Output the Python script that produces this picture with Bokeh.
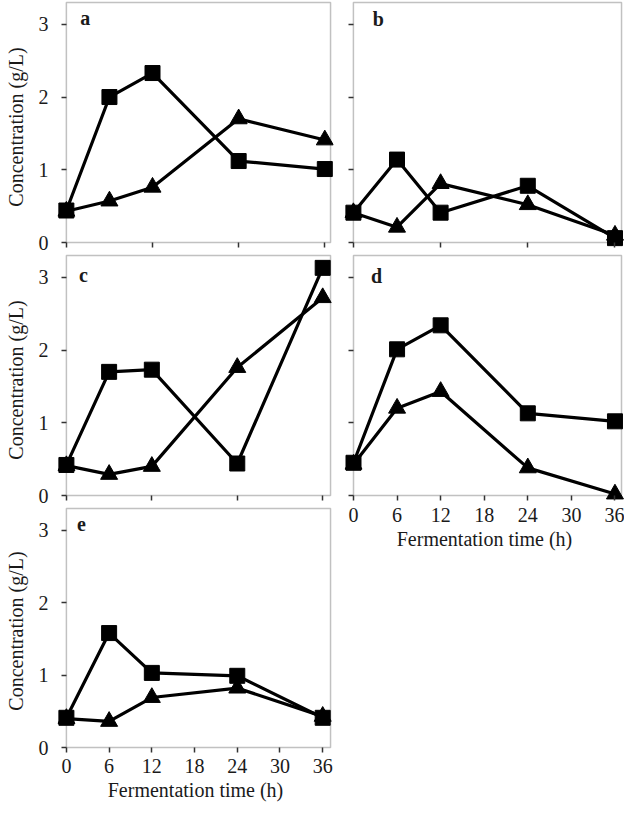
from bokeh.plotting import figure
from bokeh.models import LinearAxis, FixedTicker, Range1d, BoxAnnotation, Label
from bokeh.layouts import row, column
from bokeh.embed import file_html
from bokeh.resources import INLINE

# ---------------- data ----------------
time_h = [0, 6, 12, 24, 36]

a_square = [0.44, 2.00, 2.33, 1.12, 1.01]
a_triangle = [0.43, 0.57, 0.76, 1.70, 1.41]

b_square = [0.41, 1.14, 0.41, 0.78, 0.06]
b_triangle = [0.41, 0.21, 0.81, 0.52, 0.10]

c_square = [0.42, 1.70, 1.73, 0.44, 3.13]
c_triangle = [0.41, 0.29, 0.40, 1.76, 2.72]

d_square = [0.45, 2.01, 2.34, 1.13, 1.02]
d_triangle = [0.43, 1.20, 1.43, 0.38, 0.02]

e_square = [0.41, 1.58, 1.03, 0.99, 0.41]
e_triangle = [0.40, 0.36, 0.69, 0.82, 0.43]

panel_letters = ["a", "b", "c", "d", "e"]
y_ticks = [0, 1, 2, 3]
x_ticks_coarse = [0, 12, 24, 36]
x_ticks_fine = [0, 6, 12, 18, 24, 30, 36]
x_title = "Fermentation time (h)"
y_title = "Concentration (g/L)"

FONT = "Liberation Serif"
FS = "20px"
EDGE = "#333333"
TXT = "#1a1a1a"
Y_TOP = 3.3
PAD_L, PAD_R, PAD_T = 9, 3, 2


def tick_axis(ticks):
    # ticks drawn exactly on the box edge (data value 0)
    return LinearAxis(
        fixed_location=0, ticker=FixedTicker(ticks=ticks),
        axis_line_color=None,
        major_tick_out=5, major_tick_in=0, minor_tick_out=0, minor_tick_in=0,
        major_tick_line_color=EDGE, major_tick_line_width=1.5,
        major_label_text_color=None, major_label_text_font_size="0px",
    )


def label_axis(ticks, title, standoff, title_standoff):
    # labels and title (sits at the frame edge, no ticks / line)
    return LinearAxis(
        ticker=FixedTicker(ticks=ticks),
        axis_line_color=None,
        major_tick_out=0, major_tick_in=0, minor_tick_out=0, minor_tick_in=0,
        major_tick_line_color=None, minor_tick_line_color=None,
        major_label_standoff=standoff,
        major_label_text_font=FONT, major_label_text_font_size=FS,
        major_label_text_color=TXT,
        axis_label=title, axis_label_text_font=FONT, axis_label_text_font_size=FS,
        axis_label_text_font_style="normal", axis_label_text_color=TXT,
        axis_label_standoff=title_standoff,
    )


def make_panel(letter, sq, tri, fig_box, box, pad_b, xr, show_ylab, show_xlab, xticks, letter_off):
    fx, fy, W, H = fig_box
    bl, bt, br, bb = box
    sx = (br - bl) / xr
    sy = (bb - bt) / Y_TOP
    p = figure(
        width=W, height=H,
        x_range=Range1d(-PAD_L / sx, xr + PAD_R / sx),
        y_range=Range1d(-pad_b / sy, Y_TOP + PAD_T / sy),
        x_axis_type=None, y_axis_type=None,
        toolbar_location=None, output_backend="svg", title=None,
        min_border_left=bl - PAD_L - fx,
        min_border_right=fx + W - (br + PAD_R),
        min_border_top=bt - PAD_T - fy,
        min_border_bottom=fy + H - (bb + pad_b),
        outline_line_color=None,
        background_fill_color="white", border_fill_color="white",
    )

    p.add_layout(tick_axis(y_ticks), "left")
    p.add_layout(tick_axis(xticks), "below")
    if show_ylab:
        p.add_layout(label_axis(y_ticks, y_title, 13 + 5 - PAD_L, 9), "left")
    if show_xlab:
        p.add_layout(label_axis(xticks, x_title, 3, 3), "below")

    p.add_layout(BoxAnnotation(left=0, right=xr, bottom=0, top=Y_TOP,
                               fill_color=None, fill_alpha=0,
                               line_color=EDGE, line_width=1.5, level="underlay"))

    p.line(time_h, tri, line_color="black", line_width=3.2)
    p.line(time_h, sq, line_color="black", line_width=3.2)
    p.scatter(time_h, tri, marker="triangle", size=17, color="black")
    p.scatter(time_h, sq, marker="square", size=15, color="black")

    p.add_layout(Label(x=0, y=Y_TOP, x_offset=letter_off[0], y_offset=-letter_off[1],
                       text=letter, text_font=FONT, text_font_style="bold",
                       text_font_size=FS, text_color=TXT,
                       text_align="center", text_baseline="middle"))
    return p


pa = make_panel(panel_letters[0], a_square, a_triangle, (0, 0, 337, 253), (62, 2, 330, 242), 11,
                36.8, True, False, x_ticks_coarse, (19, 15))
pc = make_panel(panel_letters[2], c_square, c_triangle, (0, 253, 337, 253), (66, 255, 333, 495), 11,
                37.1, True, False, x_ticks_coarse, (17, 19))
pe = make_panel(panel_letters[4], e_square, e_triangle, (0, 506, 337, 302), (66, 508, 333, 747), 8,
                37.1, True, True, x_ticks_fine, (15, 15))
pb = make_panel(panel_letters[1], b_square, b_triangle, (337, 0, 287, 253), (350, 2, 621, 242), 9,
                36.9, False, False, x_ticks_coarse, (25, 16))
pd = make_panel(panel_letters[3], d_square, d_triangle, (337, 253, 287, 555), (353, 255, 621, 495), 9,
                36.9, False, True, x_ticks_fine, (23, 20))

layout = row(column(pa, pc, pe), column(pb, pd))

open("out.html", "w").write(file_html(layout, INLINE))
